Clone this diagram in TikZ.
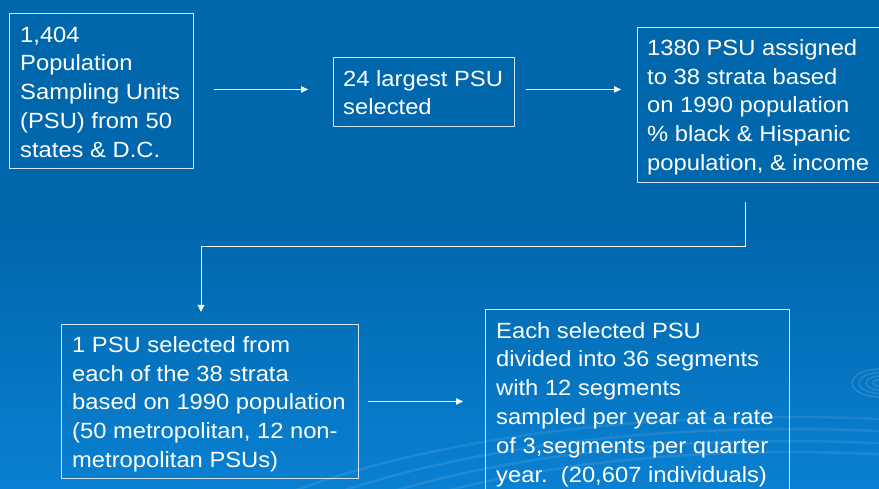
\documentclass[tikz,border=0pt]{standalone}
\usepackage{fontspec}
\setmainfont{Liberation Sans}[FakeStretch=1.08]
\usetikzlibrary{arrows.meta,calc}
\definecolor{bgtop}{HTML}{0067AC}
\definecolor{bgbot}{HTML}{0A80D2}
\definecolor{rule}{HTML}{D2E5F5}
\begin{document}
\begin{tikzpicture}[x=1pt,y=-1pt,
  stepbox/.style={draw=rule, line width=0.9pt, rectangle, inner sep=0pt, anchor=north west},
  txt/.style={align=left, inner sep=0pt, anchor=north west, text=white,
              font=\fontsize{22}{28.8}\selectfont},
  conn/.style={draw=white, line width=0.9pt},
  arr/.style={conn, -{Triangle[length=7pt,width=6.5pt]}},
  ripple/.style={draw=white, draw opacity=0.09, line width=2.5pt}]
\useasboundingbox (0,0) rectangle (879,489);
\clip (0,0) rectangle (879,489);

% background: flat dark blue on top, lighter towards the bottom
\fill[bgtop] (0,0) rectangle (879,226);
\shade[top color=bgtop, bottom color=bgbot] (0,225) rectangle (879,489);

% faint water ripples, bottom right
\foreach \rx/\ry in {667/223, 632/211, 598/199, 565/188}
  \draw[ripple] (790,640) ellipse [x radius=\rx, y radius=\ry];
\foreach \r in {7,14,21,28}
  \draw[draw=white, draw opacity=0.13, line width=1.6pt] (880,383) ellipse [x radius=\r, y radius=0.5*\r];

% boxes
\node[stepbox, minimum width=184pt, minimum height=155pt] (b1) at (9,13) {};
\node[stepbox, minimum width=181pt, minimum height=69pt]  (b2) at (333,57) {};
\node[stepbox, minimum width=262pt, minimum height=155pt] (b3) at (637,27) {};
\node[stepbox, minimum width=297pt, minimum height=154pt] (b4) at (61,324) {};
\node[stepbox, minimum width=304pt, minimum height=195pt] (b5) at (485,309) {};

% box texts
\node[txt] (t1) at ([xshift=11pt,yshift=-8.8pt]b1.north west)
  {\strut 1,404\\Population\\Sampling Units\\(PSU) from 50\\states \& D.C.};
\node[txt] (t2) at ([xshift=10pt,yshift=-8.8pt]b2.north west)
  {\strut 24 largest PSU\\selected};
\node[txt] (t3) at ([xshift=10pt,yshift=-8pt]b3.north west)
  {\strut 1380 PSU assigned\\to 38 strata based\\on 1990 population\\\% black \& Hispanic\\population, \& income};
\node[txt] (t4) at ([xshift=11pt,yshift=-8pt]b4.north west)
  {\strut 1 PSU selected from\\each of the 38 strata\\based on 1990 population\\(50 metropolitan, 12 non-\\metropolitan PSUs)};
\node[txt] (t5) at ([xshift=11pt,yshift=-8.8pt]b5.north west)
  {\strut Each selected PSU\\divided into 36 segments\\with 12 segments\\sampled per year at a rate\\of 3,segments per quarter\\year.\ \ (20,607 individuals)};

% connectors
\draw[arr, shorten <=20pt, shorten >=25pt] ([yshift=1.5pt]b1.east) -- ([yshift=1.5pt]b1.east -| b2.west);
\draw[arr, shorten <=11pt, shorten >=16pt] ([yshift=2.5pt]b2.east) -- ([yshift=2.5pt]b2.east -| b3.west);
\coordinate (drop) at ([xshift=108pt]b3.south west);
\coordinate (land) at ([xshift=140pt]b4.north west);
\draw[arr] ([yshift=-19pt]drop) -- ++(0,45) -| ([yshift=12pt]land);
\draw[arr, shorten <=9pt, shorten >=22pt] (b4.east) -- (b4.east -| b5.west);
\end{tikzpicture}
\end{document}
